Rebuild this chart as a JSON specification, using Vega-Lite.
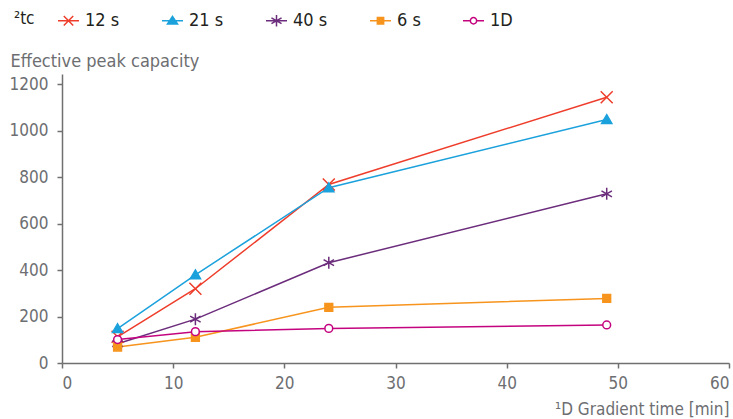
{
  "$schema": "https://vega.github.io/schema/vega-lite/v6.json",
  "autosize": {"type": "none"},
  "padding": {"left": 62, "top": 74, "right": 4, "bottom": 56},
  "width": 667,
  "height": 289,
  "background": "white",
  "config": {
    "view": {"stroke": null},
    "font": "DejaVu Sans Condensed",
    "axis": {
      "grid": false,
      "domainColor": "#707070",
      "tickColor": "#707070",
      "domainWidth": 1.5,
      "tickWidth": 1.5,
      "tickSize": 5,
      "labelColor": "#6d6e71",
      "labelFont": "DejaVu Sans Condensed",
      "labelFontSize": 17,
      "titleColor": "#6d6e71",
      "titleFont": "DejaVu Sans Condensed",
      "titleFontSize": 18,
      "titleFontWeight": "normal"
    },
    "legend": {
      "orient": "none",
      "direction": "horizontal",
      "columns": 5,
      "legendX": -48,
      "legendY": -65,
      "titleOrient": "left",
      "titleFont": "DejaVu Sans Condensed",
      "titleFontSize": 17,
      "titleFontWeight": "normal",
      "titleColor": "#231f20",
      "titlePadding": 22,
      "titleBaseline": "middle",
      "labelFont": "DejaVu Sans Condensed",
      "labelFontSize": 18,
      "labelColor": "#231f20",
      "labelOffset": 5,
      "symbolSize": 441,
      "symbolStrokeWidth": 1.5,
      "symbolOpacity": 1,
      "columnPadding": 39
    }
  },
  "data": {
    "values": [
      {"series": "12 s", "t": 5, "cap": 113},
      {"series": "12 s", "t": 12, "cap": 320},
      {"series": "12 s", "t": 24, "cap": 769},
      {"series": "12 s", "t": 49, "cap": 1145},
      {"series": "21 s", "t": 5, "cap": 148},
      {"series": "21 s", "t": 12, "cap": 380},
      {"series": "21 s", "t": 24, "cap": 755},
      {"series": "21 s", "t": 49, "cap": 1049},
      {"series": "40 s", "t": 5, "cap": 83},
      {"series": "40 s", "t": 12, "cap": 189},
      {"series": "40 s", "t": 24, "cap": 432},
      {"series": "40 s", "t": 49, "cap": 729},
      {"series": "6 s", "t": 5, "cap": 69},
      {"series": "6 s", "t": 12, "cap": 111},
      {"series": "6 s", "t": 24, "cap": 240},
      {"series": "6 s", "t": 49, "cap": 278},
      {"series": "1D", "t": 5, "cap": 101},
      {"series": "1D", "t": 12, "cap": 135},
      {"series": "1D", "t": 24, "cap": 149},
      {"series": "1D", "t": 49, "cap": 164}
    ]
  },
  "encoding": {
    "x": {
      "field": "t", "type": "quantitative",
      "scale": {"domain": [0, 60], "nice": false},
      "axis": {
        "values": [0, 10, 20, 30, 40, 50, 60],
        "format": "d",
        "labelPadding": 7,
        "title": "¹D Gradient time [min]",
        "titleX": 667, "titleY": 51, "titleAlign": "right", "titleBaseline": "alphabetic",
        "titleFontSize": 17
      }
    },
    "y": {
      "field": "cap", "type": "quantitative",
      "scale": {"domain": [0, 1245], "nice": false},
      "axis": {
        "values": [0, 200, 400, 600, 800, 1000, 1200],
        "format": "d",
        "labelPadding": 9,
        "title": "Effective peak capacity",
        "titleAngle": 0, "titleX": -52, "titleY": -8,
        "titleAlign": "left", "titleBaseline": "alphabetic"
      }
    }
  },
  "layer": [
    {
      "mark": {"type": "line", "strokeWidth": 1.5},
      "encoding": {
        "stroke": {
          "field": "series", "type": "nominal",
          "scale": {"domain": ["12 s", "21 s", "40 s", "6 s", "1D"], "range": ["#ee3d2b", "#1ba1dc", "#6b2c7c", "#f7941d", "#c4047f"]},
          "legend": null
        }
      }
    },
    {
      "mark": {"type": "point", "size": 144, "strokeWidth": 1.5, "opacity": 1},
      "encoding": {
        "stroke": {
          "field": "series", "type": "nominal",
          "scale": {"domain": ["12 s", "21 s", "40 s", "6 s", "1D"], "range": ["#ee3d2b", "#1ba1dc", "#6b2c7c", "#f7941d", "#c4047f"]},
          "legend": null
        },
        "fill": {
          "field": "series", "type": "nominal",
          "scale": {"domain": ["12 s", "21 s", "40 s", "6 s", "1D"], "range": ["#ee3d2b", "#1ba1dc", "#6b2c7c", "#f7941d", "#ffffff"]},
          "legend": null
        },
        "shape": {
          "field": "series", "type": "nominal",
          "scale": {"domain": ["12 s", "21 s", "40 s", "6 s", "1D"], "range": [
            "M-1,-1L1,1M-1,1L1,-1",
            "M0,-0.8L0.85,0.65L-0.85,0.65Z",
            "M0,-1V1M-0.87,-0.5L0.87,0.5M-0.87,0.5L0.87,-0.5",
            "M-0.65,-0.65H0.65V0.65H-0.65Z",
            "M-0.65,0A0.65,0.65 0 1,0 0.65,0A0.65,0.65 0 1,0 -0.65,0Z"
          ]},
          "legend": null
        }
      }
    },
    {
      "transform": [{"filter": "datum.t < 0"}],
      "mark": {"type": "point", "size": 144, "strokeWidth": 1.5, "opacity": 1},
      "encoding": {
        "stroke": {
          "field": "series", "type": "nominal",
          "scale": {"domain": ["12 s", "21 s", "40 s", "6 s", "1D"], "range": ["#ee3d2b", "#1ba1dc", "#6b2c7c", "#f7941d", "#c4047f"]},
          "legend": {"title": "²tc"}
        },
        "fill": {
          "field": "series", "type": "nominal",
          "scale": {"domain": ["12 s", "21 s", "40 s", "6 s", "1D"], "range": ["#ee3d2b", "#1ba1dc", "#6b2c7c", "#f7941d", "#ffffff"]},
          "legend": {"title": "²tc"}
        },
        "shape": {
          "field": "series", "type": "nominal",
          "scale": {"domain": ["12 s", "21 s", "40 s", "6 s", "1D"], "range": [
            "M-1,0H1M-0.45,-0.45L0.45,0.45M-0.45,0.45L0.45,-0.45",
            "M-1,0H1M0,-0.42L0.48,0.3L-0.48,0.3Z",
            "M-1,0H1M0,-0.55V0.55M-0.48,-0.28L0.48,0.28M-0.48,0.28L0.48,-0.28",
            "M-1,0H1M-0.3,-0.3H0.3V0.3H-0.3Z",
            "M-1,0H-0.3M0.3,0H1M-0.3,0A0.3,0.3 0 1,0 0.3,0A0.3,0.3 0 1,0 -0.3,0Z"
          ]},
          "legend": {"title": "²tc"}
        }
      }
    }
  ],
  "resolve": {
    "scale": {"shape": "independent", "stroke": "independent", "fill": "independent"},
    "legend": {"shape": "independent", "stroke": "independent", "fill": "independent"}
  }
}
